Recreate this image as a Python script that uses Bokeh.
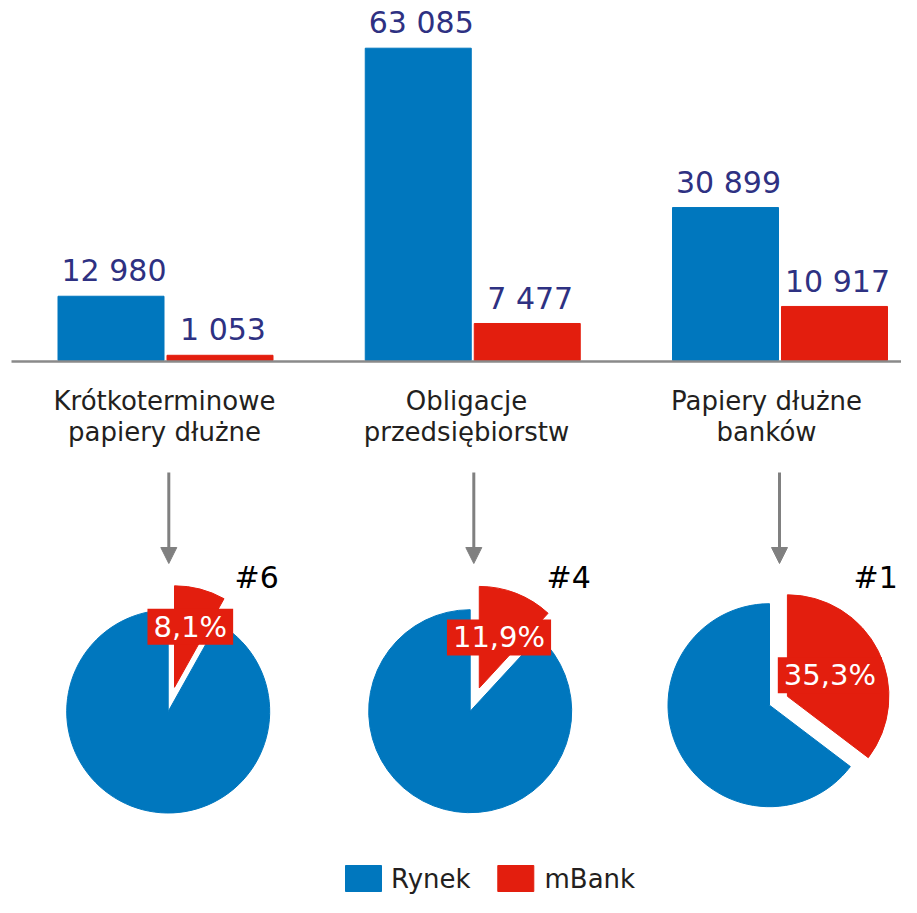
import math
from bokeh.plotting import figure
from bokeh.models import Range1d, Arrow, NormalHead
from bokeh.core.properties import value
from bokeh.embed import file_html
from bokeh.resources import INLINE

# ---------------- data ----------------
categories = ["Krótkoterminowe\npapiery dłużne", "Obligacje\nprzedsiębiorstw", "Papiery dłużne\nbanków"]
series_names = ["Rynek", "mBank"]
rynek = [12980, 63085, 30899]
mbank = [1053, 7477, 10917]
ranks = ["#6", "#4", "#1"]

# ---------------- style ----------------
BLUE = "#0077BE"
RED = "#E31E0E"
NAVY = "#2E3182"
DARK = "#231F20"
GRAY = "#808080"
FONT = value("DejaVu Sans")

W, H = 901, 897

def Y(py):
    # canvas pixel y (from top) -> data y
    return H - py

def fix(size):
    # rendered alphabetic baseline sits lower than requested; compensate
    return 0.38 * size

BASE_PY = 360.0                 # canvas y of value 0
TOP_PY = 47.7                   # canvas y of the largest value
k = (BASE_PY - TOP_PY) / max(rynek)

GROUP_X0, GROUP_DX = 164.5, 307.25
BAR_W = 106
LABEL_X = [164, 466, 766]
ARROW_X = [168.3, 473.3, 779]
PIE_C = [(167.7, 711.0), (469.7, 710.7), (769.0, 704.7)]
PIE_R = 101.5
EXPLODE = [25, 25, 20]
LBL_DIST = [62.7, 54.2, 47.4]
RANK_X = [234, 546, 853]

p = figure(width=W, height=H, x_range=Range1d(0, W), y_range=Range1d(0, H),
           output_backend="svg", toolbar_location=None, min_border=0,
           x_axis_location=None, y_axis_location=None)
p.grid.visible = False
p.outline_line_color = None
p.background_fill_color = "white"
p.border_fill_color = "white"
p.extra_y_ranges = {"val": Range1d(start=(BASE_PY - H) / k, end=BASE_PY / k)}

n = len(categories)
gx = [GROUP_X0 + i * GROUP_DX for i in range(n)]
xb = [g - 54 for g in gx]
xr = [g + 55 for g in gx]

# bars
p.vbar(x=xb, top=rynek, bottom=0, width=BAR_W, color=BLUE, y_range_name="val")
p.vbar(x=xr, top=mbank, bottom=0, width=BAR_W, color=RED, y_range_name="val")

def fmt(v):
    return f"{v:,}".replace(",", " ")

p.text(x=xb, y=rynek, text=[fmt(v) for v in rynek], y_range_name="val",
       text_font=FONT, text_font_size="30px", text_color=NAVY,
       text_align="center", text_baseline="alphabetic", x_offset=3, y_offset=-14 - fix(30))
p.text(x=xr, y=mbank, text=[fmt(v) for v in mbank], y_range_name="val",
       text_font=FONT, text_font_size="30px", text_color=NAVY,
       text_align="center", text_baseline="alphabetic", x_offset=3, y_offset=-14 - fix(30))

# baseline
p.segment(x0=[11], y0=[Y(361)], x1=[W], y1=[Y(361)], line_color="#8A8A8A", line_width=2.5)

# category labels (two lines each)
line1 = [c.split("\n")[0] for c in categories]
line2 = [c.split("\n")[1] for c in categories]
p.text(x=LABEL_X, y=[Y(410.5 - fix(26))] * n, text=line1, text_font=FONT, text_font_size="26px",
       text_color=DARK, text_align="center", text_baseline="alphabetic")
p.text(x=LABEL_X, y=[Y(441 - fix(26))] * n, text=line2, text_font=FONT, text_font_size="26px",
       text_color=DARK, text_align="center", text_baseline="alphabetic")

# arrows
for ax in ARROW_X:
    p.add_layout(Arrow(x_start=ax, y_start=Y(472), x_end=ax, y_end=Y(563),
                       line_color=GRAY, line_width=3,
                       end=NormalHead(size=16, fill_color=GRAY, line_color=GRAY)))

# pies
shares = [m / r for m, r in zip(mbank, rynek)]
for i, s in enumerate(shares):
    cx, cy = PIE_C[i]
    cy = Y(cy)
    sweep = s * 2 * math.pi
    top = math.pi / 2
    # market (rest)
    p.wedge(x=[cx], y=[cy], radius=PIE_R, start_angle=top, end_angle=top - sweep,
            color=BLUE)
    # mBank slice, exploded along its bisector
    bis = top - sweep / 2
    rx = cx + EXPLODE[i] * math.cos(bis)
    ry = cy + EXPLODE[i] * math.sin(bis)
    p.wedge(x=[rx], y=[ry], radius=PIE_R, start_angle=top - sweep, end_angle=top,
            color=RED)
    lx = rx + LBL_DIST[i] * math.cos(bis)
    ly = ry + LBL_DIST[i] * math.sin(bis)
    lbl = f"{s * 100:.1f}%".replace(".", ",")
    p.text(x=[lx], y=[ly], text=[lbl], text_font=FONT, text_font_size="29px",
           text_color="white", text_align="center", text_baseline="middle",
           background_fill_color=RED, padding=[6, 1])

# rank labels
p.text(x=RANK_X, y=[Y(588 - fix(30))] * n, text=ranks, text_font=FONT, text_font_size="30px",
       text_color="black", text_align="left", text_baseline="alphabetic")

# legend (moved up so it fits inside the canvas)
LEG_SQ_X = [363, 515.3]
LEG_TXT_X = [390.5, 544]
p.rect(x=LEG_SQ_X, y=[Y(878)] * 2, width=36, height=26, color=[BLUE, RED])
p.text(x=LEG_TXT_X, y=[Y(888.5 - fix(26))] * 2, text=series_names, text_font=FONT,
       text_font_size="26px", text_color=DARK, text_align="left", text_baseline="alphabetic")

open("out.html", "w").write(file_html(p, INLINE))
